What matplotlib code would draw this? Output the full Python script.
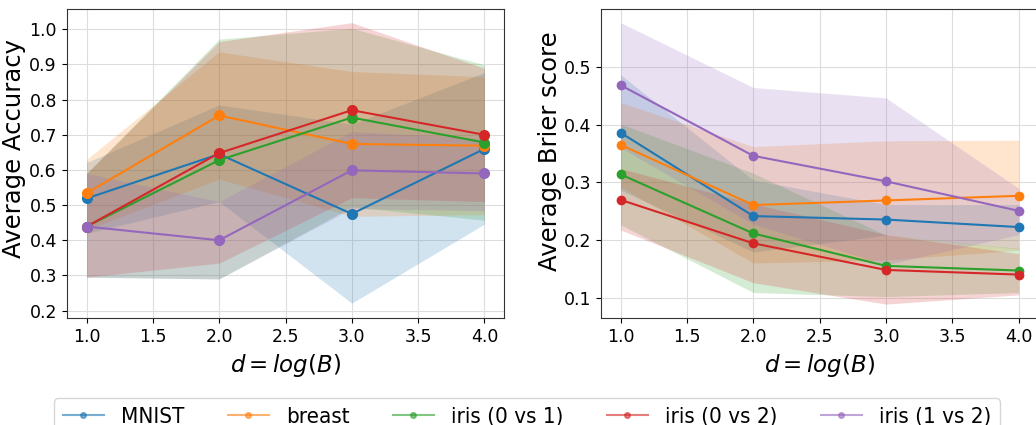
import matplotlib
matplotlib.use("Agg")
import matplotlib.pyplot as plt
from matplotlib.lines import Line2D
import numpy as np

d = [1.0, 2.0, 3.0, 4.0]
names = ["MNIST", "breast", "iris (0 vs 1)", "iris (0 vs 2)", "iris (1 vs 2)"]
colors = ["#1f77b4", "#ff7f0e", "#2ca02c", "#d62728", "#9467bd"]

# Accuracy: mean, lower, upper
acc_mean = {
    "MNIST":         [0.519, 0.645, 0.475, 0.660],
    "breast":        [0.534, 0.755, 0.674, 0.669],
    "iris (0 vs 1)": [0.439, 0.628, 0.749, 0.678],
    "iris (0 vs 2)": [0.439, 0.648, 0.770, 0.700],
    "iris (1 vs 2)": [0.439, 0.400, 0.599, 0.590],
}
acc_low = {
    "MNIST":         [0.42, 0.510, 0.221, 0.446],
    "breast":        [0.43, 0.574, 0.468, 0.473],
    "iris (0 vs 1)": [0.295, 0.290, 0.495, 0.457],
    "iris (0 vs 2)": [0.295, 0.335, 0.521, 0.510],
    "iris (1 vs 2)": [0.295, 0.290, 0.490, 0.484],
}
acc_high = {
    "MNIST":         [0.621, 0.785, 0.730, 0.877],
    "breast":        [0.630, 0.936, 0.880, 0.865],
    "iris (0 vs 1)": [0.590, 0.972, 1.003, 0.899],
    "iris (0 vs 2)": [0.590, 0.965, 1.019, 0.889],
    "iris (1 vs 2)": [0.590, 0.510, 0.709, 0.690],
}

# Brier score: mean, lower, upper
brier_mean = {
    "MNIST":         [0.386, 0.242, 0.236, 0.223],
    "breast":        [0.365, 0.261, 0.269, 0.277],
    "iris (0 vs 1)": [0.314, 0.212, 0.156, 0.148],
    "iris (0 vs 2)": [0.270, 0.195, 0.149, 0.141],
    "iris (1 vs 2)": [0.468, 0.346, 0.302, 0.251],
}
brier_low = {
    "MNIST":         [0.287, 0.180, 0.209, 0.185],
    "breast":        [0.292, 0.161, 0.166, 0.183],
    "iris (0 vs 1)": [0.227, 0.110, 0.103, 0.110],
    "iris (0 vs 2)": [0.218, 0.127, 0.090, 0.106],
    "iris (1 vs 2)": [0.360, 0.228, 0.158, 0.210],
}
brier_high = {
    "MNIST":         [0.486, 0.304, 0.262, 0.262],
    "breast":        [0.438, 0.362, 0.372, 0.373],
    "iris (0 vs 1)": [0.401, 0.316, 0.209, 0.186],
    "iris (0 vs 2)": [0.324, 0.263, 0.210, 0.177],
    "iris (1 vs 2)": [0.576, 0.464, 0.446, 0.290],
}

W, H = 1036, 425
fig = plt.figure(figsize=(W / 100, H / 100), dpi=100)

def px_axes(x0, y0, x1, y1):
    return fig.add_axes([x0 / W, (H - y1) / H, (x1 - x0) / W, (y1 - y0) / H])

ax1 = px_axes(66.7, 9.3, 504.3, 318.3)
ax2 = px_axes(600.7, 9.3, 1038.6, 318.3)

for ax, m, lo, hi, ms in [(ax1, acc_mean, acc_low, acc_high, 7),
                          (ax2, brier_mean, brier_low, brier_high, 6)]:
    for n, c in zip(names, colors):
        ax.plot(d, m[n], marker="o", color=c, lw=1.5, ms=ms, label=n, zorder=3)
        ax.fill_between(d, lo[n], hi[n], color=c, alpha=0.2, lw=0)
    ax.grid(True, color="#dddddd", lw=0.8)
    ax.set_axisbelow(True)
    ax.set_xlim(0.85, 4.15)
    ax.set_xticks([1.0, 1.5, 2.0, 2.5, 3.0, 3.5, 4.0])
    ax.tick_params(labelsize=12.5)
    ax.set_xlabel(r"$d = log(B)$", fontsize=16.5)
    for s in ax.spines.values():
        s.set_color("#333333")

ax1.set_ylim(0.178, 1.057)
ax1.set_yticks(np.arange(0.2, 1.01, 0.1))
ax1.set_ylabel("Average Accuracy", fontsize=17.5)
ax1.yaxis.set_label_coords(-0.092, 0.55)
ax2.set_ylim(0.0655, 0.599)
ax2.set_yticks([0.1, 0.2, 0.3, 0.4, 0.5])
ax2.set_ylabel("Average Brier score", fontsize=17.5)
ax2.yaxis.set_label_coords(-0.088, 0.54)

handles = [Line2D([0], [0], color=c, marker="o", ms=4, lw=1.5, alpha=0.6) for c in colors]
fig.legend(handles, names, loc="upper center", bbox_to_anchor=(527 / W, 1 - 387 / H),
           ncol=5, prop={"family": "DejaVu Sans", "stretch": "condensed", "size": 16},
           frameon=True, columnspacing=1.95, handlelength=1.85, handletextpad=0.77,
           borderpad=0.4)

fig.savefig("out.png", dpi=100)
